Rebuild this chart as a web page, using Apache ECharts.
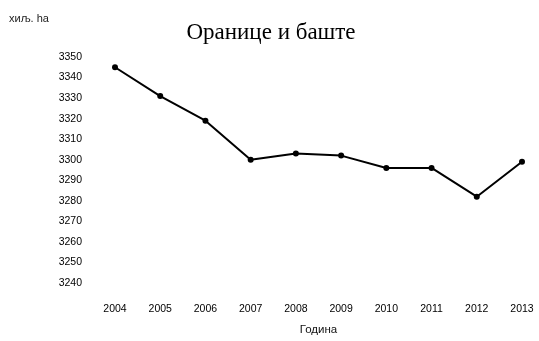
<!DOCTYPE html>
<html>
<head>
<meta charset="utf-8">
<script src="https://cdn.jsdelivr.net/npm/echarts@6/dist/echarts.min.js"></script>
<style>
  html, body { margin: 0; padding: 0; background: #fff; }
  #chart { width: 539px; height: 341px; }
</style>
</head>
<body>
<div id="chart"></div>
<script>
// Years on the horizontal axis
const years = ['2004', '2005', '2006', '2007', '2008', '2009', '2010', '2011', '2012', '2013'];
// Arable land and gardens, thousand ha
const areaValues = [3345, 3331, 3319, 3300, 3303, 3302, 3296, 3296, 3282, 3299];
// Vertical axis range and step
const yMin = 3240;
const yMax = 3350;
const yStep = 10;

const chart = echarts.init(document.getElementById('chart'), null, { renderer: 'canvas' });

chart.setOption({
  backgroundColor: '#fff',
  animation: false,
  title: {
    text: 'Оранице и баште',
    left: 266,
    textAlign: 'center',
    top: 16,
    textStyle: {
      fontFamily: 'Liberation Serif',
      fontWeight: 'normal',
      fontSize: 23,
      color: '#000'
    }
  },
  graphic: [{
    type: 'text',
    left: 9,
    top: 13,
    style: {
      text: 'хиљ. ha',
      fontFamily: 'Liberation Sans',
      fontSize: 11,
      fill: '#222'
    }
  }],
  grid: {
    left: 115,
    right: 17,
    top: 57,
    bottom: 58,
    containLabel: false
  },
  xAxis: {
    type: 'category',
    data: years,
    boundaryGap: false,
    name: 'Година',
    nameLocation: 'middle',
    nameGap: 41,
    nameTextStyle: {
      fontFamily: 'Liberation Sans',
      fontSize: 11.5,
      color: '#111'
    },
    axisLine: { show: false },
    axisTick: { show: false },
    splitLine: { show: false },
    axisLabel: {
      margin: 21,
      fontFamily: 'Liberation Sans',
      fontSize: 10.5,
      color: '#000'
    }
  },
  yAxis: {
    type: 'value',
    min: yMin,
    max: yMax,
    interval: yStep,
    axisLine: { show: false },
    axisTick: { show: false },
    splitLine: { show: false },
    axisLabel: {
      margin: 33,
      fontFamily: 'Liberation Sans',
      fontSize: 10.5,
      color: '#000',
      formatter: function (v) { return String(v); }
    }
  },
  series: [{
    type: 'line',
    data: areaValues,
    symbol: 'circle',
    symbolSize: 6,
    lineStyle: { color: '#000', width: 2 },
    itemStyle: { color: '#000' }
  }]
});
</script>
</body>
</html>
